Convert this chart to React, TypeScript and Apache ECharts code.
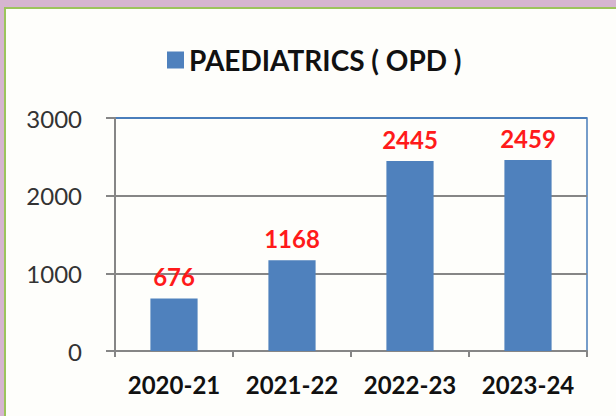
import React, { useEffect, useRef } from "react";
import * as echarts from "echarts";

const categories = ["2020-21", "2021-22", "2022-23", "2023-24"];
const seriesName = "PAEDIATRICS ( OPD )";
const opdValues = [676, 1168, 2445, 2459];
const yTicks = { min: 0, max: 3000, interval: 1000 };

export default function App() {
  const ref = useRef<HTMLDivElement>(null);
  useEffect(() => {
    if (!ref.current) return;
    const chart = echarts.init(ref.current, null, { renderer: "svg" });
    const font = "Lato, 'Open Sans', sans-serif";
    chart.setOption({
      animation: false,
      backgroundColor: "#d6b5d0",
      textStyle: { fontFamily: font },
      graphic: [
        {
          type: "rect",
          z: -10,
          silent: true,
          shape: { x: 5, y: 8, width: 640, height: 440 },
          style: { fill: "#fefefb", stroke: "#9cc45c", lineWidth: 2 },
        },
      ],
      legend: {
        show: true,
        top: 46,
        left: 167,
        padding: 0,
        icon: "rect",
        itemWidth: 17,
        itemHeight: 17,
        itemGap: 10,
        textStyle: {
          fontFamily: font,
          fontSize: 28,
          fontWeight: "bold",
          color: "#111",
          padding: [0, 0, 0, 0],
        },
        data: [seriesName],
      },
      grid: {
        left: 115,
        right: 29,
        top: 118,
        bottom: 65,
        show: true,
        borderColor: "#4a7ebb",
        borderWidth: 1.5,
        backgroundColor: "transparent",
      },
      xAxis: {
        type: "category",
        data: categories,
        boundaryGap: true,
        axisLine: { show: true, lineStyle: { color: "#868686", width: 2 } },
        axisTick: { show: true, length: 6, alignWithLabel: false, lineStyle: { color: "#868686", width: 2 } },
        axisLabel: {
          interval: 0,
          margin: 21,
          fontFamily: font,
          fontSize: 24,
          fontWeight: "bold",
          color: "#111",
        },
      },
      yAxis: {
        type: "value",
        min: yTicks.min,
        max: yTicks.max,
        interval: yTicks.interval,
        axisLine: { show: true, lineStyle: { color: "#868686", width: 2 } },
        axisTick: { show: true, length: 9, inside: false, lineStyle: { color: "#868686", width: 2 } },
        splitLine: {
          show: true,
          lineStyle: { color: ["#868686", "#868686", "#868686", "#4a7ebb"], width: 2 },
        },
        axisLabel: {
          margin: 33,
          fontFamily: font,
          fontSize: 24,
          color: "#333",
          formatter: (v: number) => String(v),
        },
      },
      series: [
        {
          name: seriesName,
          type: "bar",
          data: opdValues,
          barWidth: "40%",
          itemStyle: { color: "#4f81bd" },
          label: {
            show: true,
            position: "top",
            distance: 10,
            fontFamily: font,
            fontSize: 24,
            fontWeight: "bold",
            color: "#ff1a1a",
          },
        },
      ],
    });
    return () => chart.dispose();
  }, []);
  return (
    <div
      ref={ref}
      style={{ position: "absolute", left: 0, top: 0, width: 616, height: 416 }}
    />
  );
}
